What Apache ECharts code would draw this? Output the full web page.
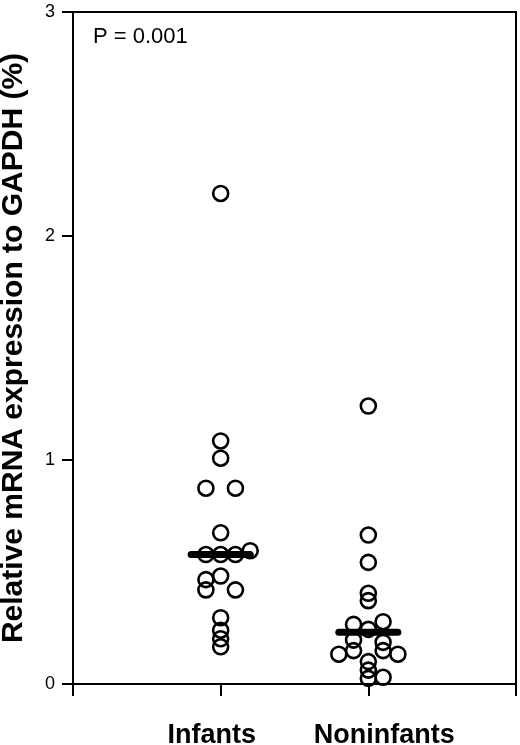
<!DOCTYPE html>
<html>
<head>
<meta charset="utf-8">
<script src="https://cdn.jsdelivr.net/npm/echarts@6/dist/echarts.min.js"></script>
<style>
  html, body { margin: 0; padding: 0; background: #fff; }
  #chart { width: 520px; height: 745px; }
</style>
</head>
<body>
<div id="chart"></div>
<script>
// 分组与数据
const groupNames = ['Infants', 'Noninfants'];
const groupPos = [1, 2];
const medians = [0.578, 0.231];
const yTicks = [0, 1, 2, 3];

// 婴儿组：x 为横向错位，y 为数值
const infantX = [1.0, 1.0, 1.0, 0.9, 1.1, 1.0, 0.9, 1.0, 1.1, 1.2, 0.9, 1.0, 0.9, 1.1, 1.0, 1.0, 1.0, 1.0];
const infantY = [2.19, 1.085, 1.008, 0.874, 0.874, 0.675, 0.578, 0.578, 0.578, 0.595, 0.466, 0.482, 0.42, 0.42, 0.296, 0.24, 0.202, 0.166];

// 非婴儿组
const nonX = [2.0, 2.0, 2.0, 2.0, 2.0, 1.9, 2.1, 2.0, 1.9, 2.1, 1.9, 2.1, 1.8, 2.2, 2.0, 2.0, 2.0, 2.1];
const nonY = [1.241, 0.665, 0.543, 0.405, 0.372, 0.266, 0.278, 0.244, 0.196, 0.186, 0.149, 0.149, 0.133, 0.133, 0.1, 0.062, 0.025, 0.03];

const FONT = "'Liberation Sans', Arial, Helvetica, sans-serif";

const chart = echarts.init(document.getElementById('chart'));

const pts = (xs, ys) => xs.map((x, i) => [x, ys[i]]);

const medianSeries = medians.map((m, i) => ({
  type: 'line',
  data: [[groupPos[i] - 0.2, m], [groupPos[i] + 0.2, m]],
  symbol: 'none',
  lineStyle: { color: '#000', width: 7, cap: 'round' },
  z: 3,
  silent: true
}));

const dotStyle = { color: 'rgba(0,0,0,0)', borderColor: '#000', borderWidth: 2.6, opacity: 1 };

chart.setOption({
  animation: false,
  textStyle: { fontFamily: FONT },
  title: {
    text: 'P = 0.001',
    left: 88,
    top: 21,
    textStyle: { fontFamily: FONT, fontSize: 22, fontWeight: 'normal', color: '#000' }
  },
  grid: {
    left: 73, right: 4, top: 12, bottom: 61,
    outerBoundsMode: 'none',
    containLabel: false,
    show: true, borderColor: '#000', borderWidth: 2, backgroundColor: 'transparent'
  },
  xAxis: {
    type: 'value',
    min: 0, max: 3, interval: 1,
    splitLine: { show: false },
    axisLine: { lineStyle: { color: '#000', width: 2 } },
    axisTick: { show: true, inside: false, length: 12, lineStyle: { color: '#000', width: 2 } },
    axisLabel: {
      margin: 38,
      formatter: v => {
        const i = groupPos.indexOf(v);
        if (i < 0) return '';
        return i === 0 ? '{a|' + groupNames[0] + '}' : '{b|' + groupNames[1] + '}';
      },
      rich: {
        a: { fontFamily: FONT, fontSize: 27, fontWeight: 'bold', color: '#000', padding: [0, 18, 0, 0] },
        b: { fontFamily: FONT, fontSize: 27, fontWeight: 'bold', color: '#000', padding: [0, 0, 0, 32] }
      }
    }
  },
  yAxis: {
    type: 'value',
    min: yTicks[0], max: yTicks[yTicks.length - 1], interval: 1,
    name: 'Relative mRNA expression to GAPDH (%)',
    nameLocation: 'middle',
    nameGap: 44,
    nameTextStyle: { fontFamily: FONT, fontSize: 30, fontWeight: 'bold', color: '#000' },
    splitLine: { show: false },
    axisLine: { lineStyle: { color: '#000', width: 2 } },
    axisTick: { show: true, inside: false, length: 11, lineStyle: { color: '#000', width: 2 } },
    axisLabel: { margin: 18, fontFamily: FONT, fontSize: 18, color: '#000' }
  },
  series: [
    {
      type: 'scatter',
      name: groupNames[0],
      data: pts(infantX, infantY),
      symbol: 'circle',
      symbolSize: 15,
      itemStyle: dotStyle,
      z: 4
    },
    {
      type: 'scatter',
      name: groupNames[1],
      data: pts(nonX, nonY),
      symbol: 'circle',
      symbolSize: 15,
      itemStyle: dotStyle,
      z: 4
    },
    ...medianSeries
  ]
});
</script>
</body>
</html>
